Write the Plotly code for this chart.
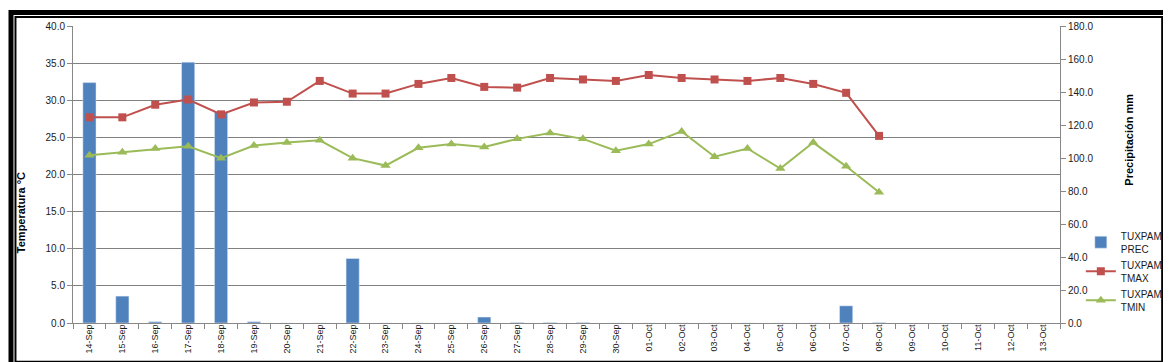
import plotly.graph_objects as go

categories = ["14-Sep", "15-Sep", "16-Sep", "17-Sep", "18-Sep", "19-Sep", "20-Sep", "21-Sep",
              "22-Sep", "23-Sep", "24-Sep", "25-Sep", "26-Sep", "27-Sep", "28-Sep", "29-Sep",
              "30-Sep", "01-Oct", "02-Oct", "03-Oct", "04-Oct", "05-Oct", "06-Oct", "07-Oct",
              "08-Oct", "09-Oct", "10-Oct", "11-Oct", "12-Oct", "13-Oct"]

prec = [145.7, 16.3, 0.8, 158.1, 128.0, 0.8, 0.0, 0.0,
        39.1, 0.0, 0.0, 0.0, 3.6, 0.3, 0.3, 0.3,
        0.0, 0.0, 0.0, 0.0, 0.0, 0.0, 0.0, 10.4,
        0.3, None, None, None, None, None]

tmax = [27.7, 27.7, 29.4, 30.1, 28.1, 29.7, 29.8, 32.6,
        30.9, 30.9, 32.2, 33.0, 31.8, 31.7, 33.0, 32.8,
        32.6, 33.4, 33.0, 32.8, 32.6, 33.0, 32.2, 31.0,
        25.2, None, None, None, None, None]

tmin = [22.6, 23.0, 23.5, 23.8, 22.2, 23.9, 24.3, 24.6,
        22.2, 21.2, 23.6, 24.1, 23.7, 24.8, 25.6, 24.8,
        23.2, 24.1, 25.8, 22.4, 23.5, 20.8, 24.3, 21.1,
        17.6, None, None, None, None, None]

W, H = 1171, 362
L, R, T, B = 65, 1060, 16, 315
pw, ph = R - L, B - T

def px(x):
    return (x - L) / pw

def py(y):
    return (B - y) / ph

FONT = "Liberation Sans"
fig = go.Figure()
fig.add_trace(go.Bar(x=categories, y=prec, name="TUXPAM<br>PREC", marker_color="#4F81BD",
                     yaxis="y"))
fig.add_trace(go.Scatter(x=categories, y=tmax, name="TUXPAM<br>TMAX", mode="lines+markers",
                         line=dict(color="#C0504D", width=2),
                         marker=dict(symbol="square", size=8, color="#C0504D"), yaxis="y2"))
fig.add_trace(go.Scatter(x=categories, y=tmin, name="TUXPAM<br>TMIN", mode="lines+markers",
                         line=dict(color="#9BBB59", width=2),
                         marker=dict(symbol="triangle-up", size=9, color="#9BBB59"), yaxis="y2"))

shapes = [
    dict(type="rect", xref="paper", yref="paper", x0=px(2.5), x1=px(W - 2.5), y0=py(2.5), y1=py(H - 2.5),
         line=dict(color="black", width=5), fillcolor="rgba(0,0,0,0)", layer="above"),
    dict(type="rect", xref="paper", yref="paper", x0=px(7), x1=px(1163), y0=py(7), y1=py(354),
         line=dict(color="black", width=2), fillcolor="rgba(0,0,0,0)", layer="above"),
]

fig.update_layout(
    width=W, height=H,
    margin=dict(l=L, r=W - R, t=T, b=H - B, pad=0),
    paper_bgcolor="white", plot_bgcolor="white",
    font=dict(family=FONT, size=10, color="#1a1a1a"),
    bargap=0.6,
    showlegend=True,
    legend=dict(x=px(1081), y=py(214), xanchor="left", yanchor="top",
                font=dict(family=FONT, size=10, color="#1a1a1a"),
                itemwidth=30, tracegroupgap=0, bgcolor="rgba(0,0,0,0)"),
    xaxis=dict(type="category", categoryorder="array", categoryarray=categories,
               range=[-0.5, len(categories) - 0.5],
               tickangle=-90, tickfont=dict(size=9, family=FONT),
               ticks="outside", tickson="boundaries", ticklen=5, tickcolor="#888",
               ticklabelstandoff=-3,
               showline=True, linecolor="#888", linewidth=1, showgrid=False, zeroline=False),
    yaxis=dict(side="right", range=[0, 180], dtick=20, tickformat=".1f",
               ticks="outside", ticklen=5, tickcolor="#888", showline=True, linecolor="#888",
               showgrid=False, zeroline=False, tickfont=dict(size=10, family=FONT)),
    yaxis2=dict(side="left", overlaying="y", range=[0, 40], dtick=5, tickformat=".1f",
                ticks="outside", ticklen=5, tickcolor="#888", showline=True, linecolor="#888",
                showgrid=True, gridcolor="#808080", gridwidth=1, zeroline=False,
                tickfont=dict(size=10, family=FONT)),
    shapes=shapes,
    annotations=[
        dict(text="<b>Temperatura °C</b>", xref="paper", yref="paper", x=px(12), y=py(204),
             showarrow=False, textangle=-90, font=dict(family=FONT, size=11, color="black"),
             xanchor="center", yanchor="middle"),
        dict(text="<b>Precipitación mm</b>", xref="paper", yref="paper", x=px(1130), y=py(130),
             showarrow=False, textangle=-90, font=dict(family=FONT, size=11, color="black"),
             xanchor="center", yanchor="middle"),
    ],
)

fig.write_html("out.html")
